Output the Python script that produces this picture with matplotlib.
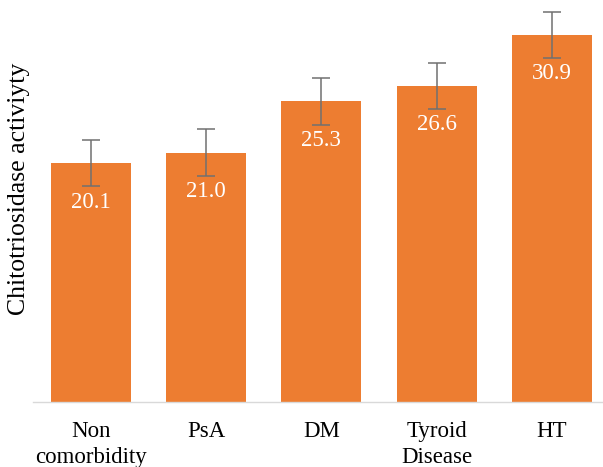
import matplotlib
matplotlib.use("Agg")
import matplotlib.pyplot as plt

categories = ["Non\ncomorbidity", "PsA", "DM", "Tyroid\nDisease", "HT"]
values = [20.1, 21.0, 25.3, 26.6, 30.9]
errors = [1.96, 1.96, 1.96, 1.96, 1.96]
value_labels = ["20.1", "21.0", "25.3", "26.6", "30.9"]

plt.rcParams['font.family'] = ['Liberation Serif', 'DejaVu Serif']

fig = plt.figure(figsize=(6.03, 4.67), dpi=100)
W, H = 603, 467
left_px, right_px = 33, 609.7
bottom_px, top_px = 402, 0
ax = fig.add_axes([left_px / W, 1 - bottom_px / H, (right_px - left_px) / W, (bottom_px - top_px) / H])

x = list(range(len(categories)))
ax.bar(x, values, width=0.694, color="#ED7D31", zorder=2)
ax.errorbar(x, values, yerr=errors, fmt="none", ecolor="#707070", elinewidth=1.1,
            capsize=6.5, capthick=1.1, zorder=3)

for xi, v, lab in zip(x, values, value_labels):
    ax.annotate(lab, (xi, v), xytext=(0, -28), textcoords="offset points",
                ha="center", va="center", color="white", fontsize=16.5)

ax.set_xlim(-0.5, len(categories) - 0.5)
ax.set_ylim(0, 402 / 11.88)
ax.set_xticks(x)
ax.set_xticklabels(categories, fontsize=16.5, linespacing=1.3)
ax.tick_params(axis="x", length=0, pad=14)
ax.set_yticks([])
for s in ["top", "right", "left"]:
    ax.spines[s].set_visible(False)
ax.spines["bottom"].set_color("#D9D9D9")
ax.spines["bottom"].set_linewidth(1.0)

fig.text(19 / W, 1 - 189 / H, "Chitotriosidase activiyty", rotation=90,
         ha="center", va="center", fontsize=18.5)

fig.savefig("out.png", dpi=100)
